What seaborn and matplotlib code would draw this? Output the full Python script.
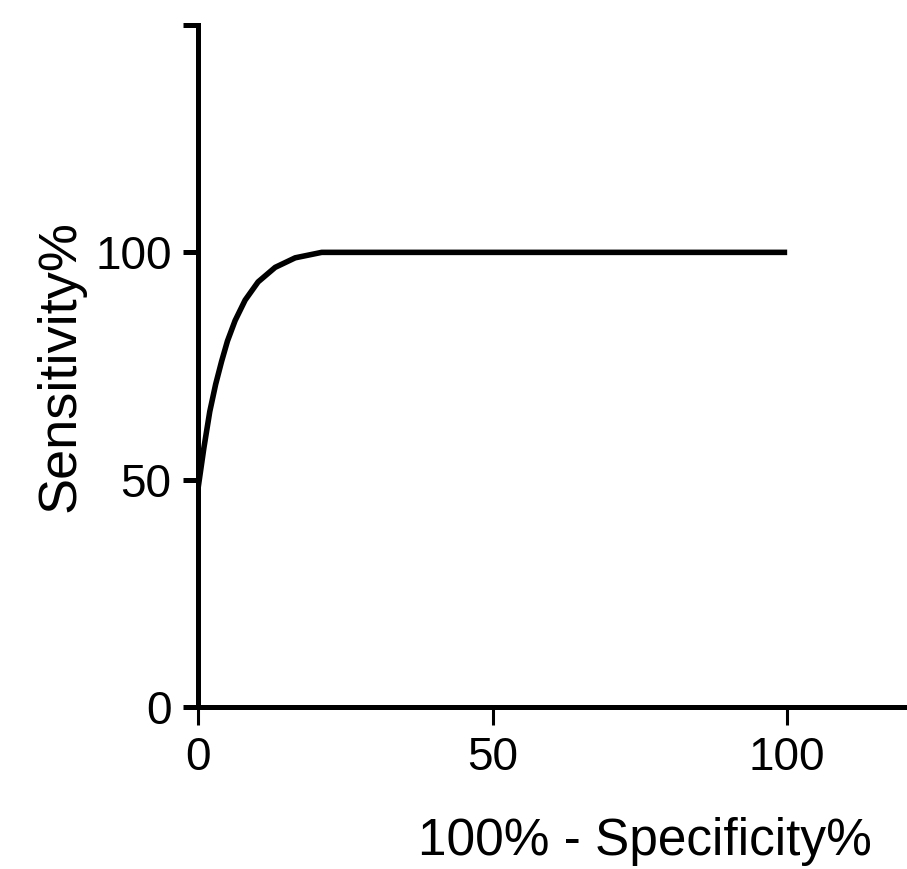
# Import necessary libraries
import pandas as pd
import matplotlib
matplotlib.use("Agg")
import matplotlib.pyplot as plt
import seaborn as sns

# --- Data ---
fpr = [0, 1, 2, 3, 4, 5, 6.3, 8.0, 10.2, 13.1, 16.5, 21, 100]
sensitivity = [48, 57, 65, 71, 76, 80.5, 85, 89.5, 93.5, 96.7, 98.8, 100, 100]

x_ticks = [0, 50, 100]
y_ticks = [0, 50, 100, 150]
y_tick_labels = ["0", "50", "100", ""]

data = pd.DataFrame({"fpr": fpr, "sensitivity": sensitivity})

sns.set_style("white")
plt.rcParams["font.family"] = ["Liberation Sans", "DejaVu Sans"]

# Create the figure and place the axes
fig = plt.figure(figsize=(9.07, 8.69), dpi=100)
ax = fig.add_axes([0.2183, 0.1864, 0.7795, 0.7848])

# Draw the ROC curve
sns.lineplot(x="fpr", y="sensitivity", data=data, ax=ax, color="black",
             linewidth=4.0, solid_capstyle="butt", solid_joinstyle="round",
             sort=False)

ax.set_xlim(0, 120)
ax.set_ylim(0, 150)

# Only the left and bottom spines, thick like the original
for side in ["top", "right"]:
    ax.spines[side].set_visible(False)
for side in ["left", "bottom"]:
    ax.spines[side].set_linewidth(3.6)
    ax.spines[side].set_color("black")

# Ticks
ax.set_xticks(x_ticks)
ax.set_xticklabels([str(t) for t in x_ticks])
ax.set_yticks(y_ticks)
ax.set_yticklabels(y_tick_labels)
ax.tick_params(axis="x", direction="out", length=13, width=2.2, pad=8,
               color="black", bottom=True)
ax.tick_params(axis="y", direction="out", length=11, width=3.6, pad=8,
               color="black", left=True)
for lab in ax.get_xticklabels() + ax.get_yticklabels():
    lab.set_fontsize(33)
    lab.set_color("black")

# Axis labels
ax.set_xlabel("100% - Specificity%", fontsize=37, color="black")
ax.xaxis.label.set_va("baseline")
ax.xaxis.set_label_coords(0.632, -0.217)

ax.set_ylabel("Sensitivity%", fontsize=39, color="black")
ax.yaxis.label.set_va("center")
ax.yaxis.label.set_rotation_mode("default")
ax.yaxis.set_label_coords(-0.194, 0.5)

ax.grid(False)

# Save the plot as a PNG file
plt.savefig("out.png", dpi=100)
